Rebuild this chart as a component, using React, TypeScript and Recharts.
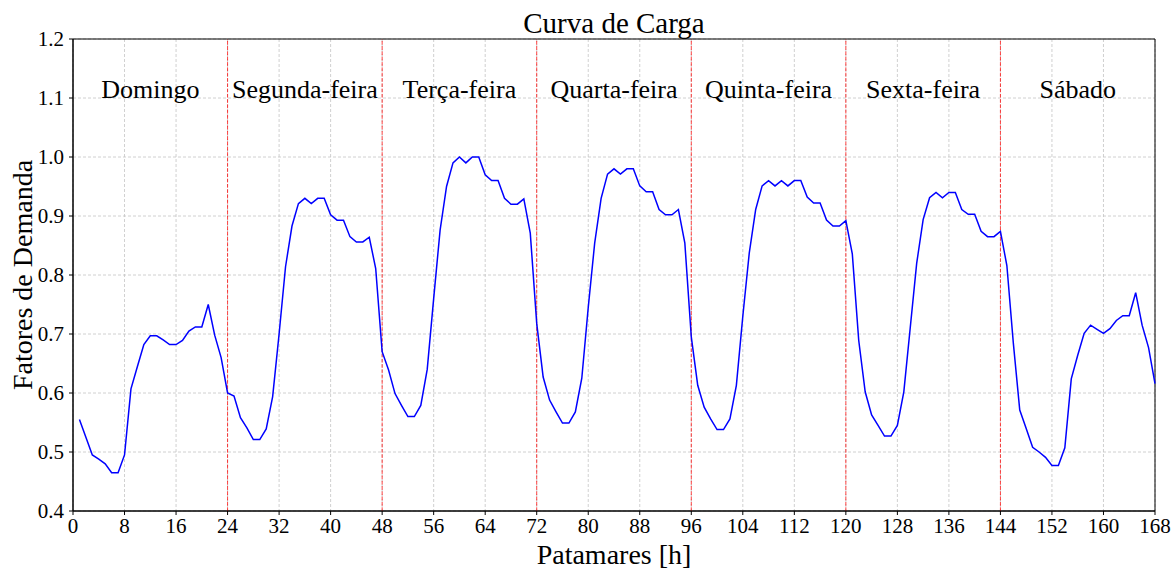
import React from 'react';
import {
  LineChart,
  Line,
  XAxis,
  YAxis,
  CartesianGrid,
  ReferenceLine,
  ReferenceDot,
  ReferenceArea,
  Label,
} from 'recharts';

const FONT = "'Liberation Serif', 'Times New Roman', serif";

// Hourly demand factors, one array per weekday (hours 1..24 of each day)
const domingo = [
  0.555, 0.525, 0.495, 0.488, 0.48, 0.465, 0.465, 0.495, 0.607, 0.645, 0.682, 0.697,
  0.697, 0.69, 0.682, 0.682, 0.689, 0.705, 0.712, 0.712, 0.75, 0.698, 0.66, 0.6,
];
const segunda = [
  0.595, 0.558, 0.541, 0.521, 0.521, 0.539, 0.594, 0.7, 0.814, 0.883, 0.921, 0.93,
  0.921, 0.93, 0.93, 0.902, 0.893, 0.893, 0.865, 0.856, 0.856, 0.864, 0.811, 0.67,
];
const terca = [
  0.639, 0.599, 0.579, 0.56, 0.56, 0.579, 0.64, 0.76, 0.876, 0.95, 0.99, 1.0,
  0.99, 1.0, 1.0, 0.97, 0.96, 0.96, 0.93, 0.92, 0.92, 0.929, 0.871, 0.718,
];
const quarta = [
  0.627, 0.588, 0.568, 0.549, 0.549, 0.568, 0.625, 0.745, 0.854, 0.93, 0.971, 0.98,
  0.971, 0.98, 0.98, 0.951, 0.941, 0.941, 0.911, 0.902, 0.902, 0.911, 0.854, 0.695,
];
const quinta = [
  0.613, 0.576, 0.556, 0.538, 0.538, 0.556, 0.613, 0.73, 0.837, 0.911, 0.951, 0.96,
  0.951, 0.96, 0.951, 0.96, 0.96, 0.932, 0.922, 0.922, 0.893, 0.883, 0.883, 0.892,
];
const sexta = [
  0.836, 0.689, 0.602, 0.563, 0.545, 0.527, 0.527, 0.545, 0.602, 0.711, 0.82, 0.894,
  0.931, 0.94, 0.931, 0.94, 0.94, 0.911, 0.903, 0.903, 0.874, 0.865, 0.865, 0.874,
];
const sabado = [
  0.816, 0.685, 0.571, 0.54, 0.508, 0.5, 0.491, 0.477, 0.477, 0.507, 0.624, 0.664,
  0.701, 0.715, 0.708, 0.701, 0.709, 0.723, 0.731, 0.731, 0.77, 0.715, 0.677, 0.616,
];

const dayNames = [
  'Domingo',
  'Segunda-feira',
  'Terça-feira',
  'Quarta-feira',
  'Quinta-feira',
  'Sexta-feira',
  'Sábado',
];
const dayCenters = [12, 36, 60, 84, 108, 132, 156];
const dayBoundaries = [24, 48, 72, 96, 120, 144];
const xTicks = [0, 8, 16, 24, 32, 40, 48, 56, 64, 72, 80, 88, 96, 104, 112, 120, 128, 136, 144, 152, 160, 168];
const yTicks = [0.4, 0.5, 0.6, 0.7, 0.8, 0.9, 1.0, 1.1, 1.2];
const dayLabelLevel = 1.1;

const week = [domingo, segunda, terca, quarta, quinta, sexta, sabado];
const data = week.flat().map((fator, i) => ({ hora: i + 1, fator }));

const TICK_SIZE = 21;

// Tick renderers so the serif face is applied directly on each label
const XTick = (props: any) => {
  const { x, y, payload } = props;
  return (
    <text x={x} y={y} dy={TICK_SIZE * 0.72} textAnchor="middle" fontSize={TICK_SIZE} fontFamily={FONT} fill="#000">
      {payload.value}
    </text>
  );
};

const YTick = (props: any) => {
  const { x, y, payload } = props;
  return (
    <text x={x} y={y} dy={TICK_SIZE * 0.34} textAnchor="end" fontSize={TICK_SIZE} fontFamily={FONT} fill="#000">
      {Number(payload.value).toFixed(1)}
    </text>
  );
};

export default function App() {
  return (
    <div
      style={{
        position: 'absolute',
        left: 0,
        top: 0,
        width: 1172,
        height: 572,
        background: '#fff',
        fontFamily: FONT,
      }}
    >
      <LineChart
        width={1172}
        height={572}
        data={data}
        style={{ fontFamily: FONT }}
        margin={{ top: 39, right: 17, bottom: 0, left: 0 }}
      >
        <CartesianGrid stroke="#c4c4c4" strokeDasharray="3 2" strokeWidth={0.8} />
        <XAxis
          dataKey="hora"
          type="number"
          domain={[0, 168]}
          ticks={xTicks}
          interval={0}
          height={61}
          tickSize={4}
          tickMargin={3}
          tick={<XTick />}
          axisLine={{ stroke: '#000' }}
          tickLine={{ stroke: '#000' }}
        >
          <Label
            content={(props: any) => {
              const vb = props.viewBox;
              return (
                <text
                  x={vb.x + vb.width / 2}
                  y={vb.y + 53}
                  textAnchor="middle"
                  fontSize={28}
                  fontFamily={FONT}
                  fill="#000"
                >
                  Patamares [h]
                </text>
              );
            }}
          />
        </XAxis>
        <YAxis
          type="number"
          domain={[0.4, 1.2]}
          ticks={yTicks}
          interval={0}
          width={73}
          tickSize={4}
          tickMargin={5}
          tick={<YTick />}
          axisLine={{ stroke: '#000' }}
          tickLine={{ stroke: '#000' }}
        >
          <Label
            content={(props: any) => {
              const vb = props.viewBox;
              const cx = 32;
              const cy = vb.y + vb.height / 2;
              return (
                <text
                  x={cx}
                  y={cy}
                  transform={`rotate(-90 ${cx} ${cy})`}
                  textAnchor="middle"
                  fontSize={28}
                  fontFamily={FONT}
                  fill="#000"
                >
                  Fatores de Demanda
                </text>
              );
            }}
          />
        </YAxis>
        {dayBoundaries.map((b) => (
          <ReferenceLine
            key={b}
            x={b}
            stroke="#ff0000"
            strokeOpacity={0.75}
            strokeWidth={1}
            strokeDasharray="3.7 1.6"
          />
        ))}
        {dayNames.map((name, i) => (
          <ReferenceDot
            key={name}
            x={dayCenters[i]}
            y={dayLabelLevel}
            r={0}
            fill="none"
            stroke="none"
            label={{
              content: (props: any) => {
                const vb = props.viewBox;
                return (
                  <text
                    x={vb.x + vb.width / 2}
                    y={vb.y + vb.height / 2}
                    textAnchor="middle"
                    fontSize={26}
                    fontFamily={FONT}
                    fill="#000"
                  >
                    {name}
                  </text>
                );
              },
            }}
          />
        ))}
        <ReferenceArea
          x1={0}
          x2={168}
          y1={0.4}
          y2={1.2}
          fill="none"
          stroke="#000"
          strokeWidth={1}
          label={{
            content: (props: any) => {
              const vb = props.viewBox;
              return (
                <text
                  x={vb.x + vb.width / 2}
                  y={vb.y - 6}
                  textAnchor="middle"
                  fontSize={29}
                  fontFamily={FONT}
                  fill="#000"
                >
                  Curva de Carga
                </text>
              );
            },
          }}
        />
        <Line
          type="linear"
          dataKey="fator"
          stroke="#0000ff"
          strokeWidth={1.5}
          dot={false}
          isAnimationActive={false}
        />
      </LineChart>
    </div>
  );
}
